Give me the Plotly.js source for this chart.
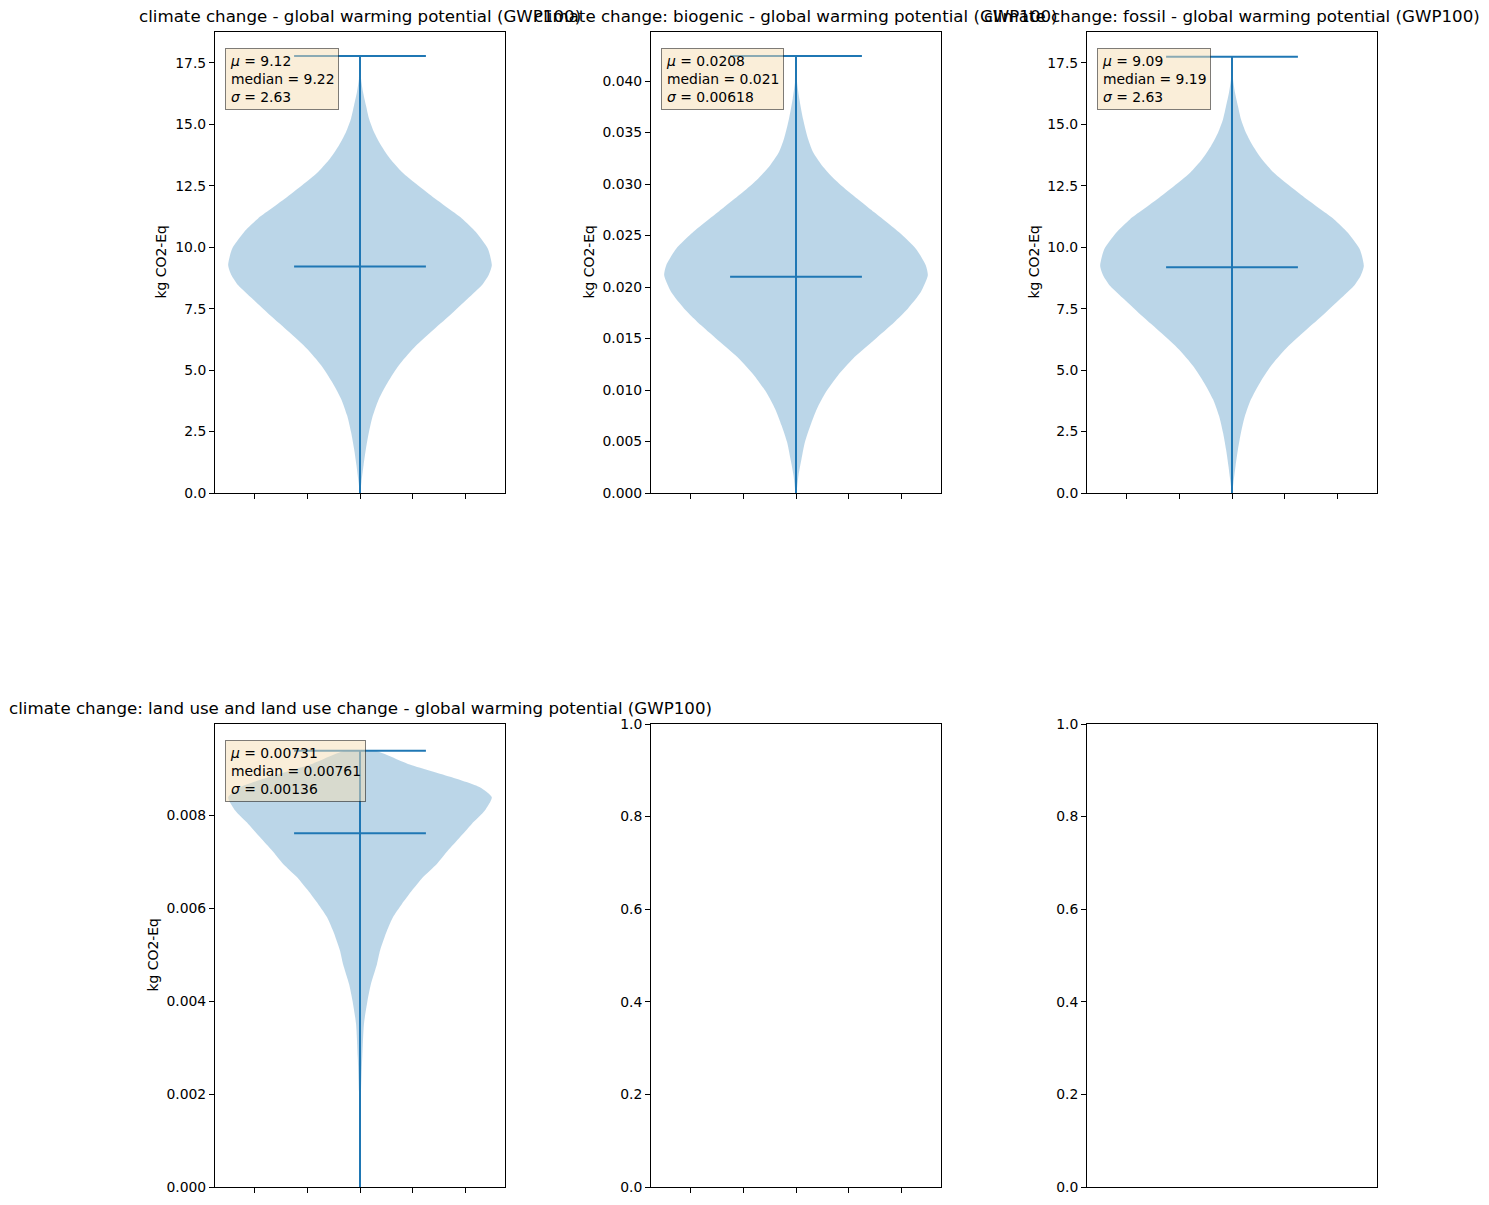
<!DOCTYPE html>
<html>
<head>
<meta charset="utf-8">
<script src="https://cdn.plot.ly/plotly-3.0.1.min.js"></script>
<style>html,body{margin:0;padding:0;background:#fff;}</style>
</head>
<body>
<div id="chart" style="width:1489px;height:1205px;"></div>
<script>
// ---------------- data ----------------
const titles = [
  "climate change - global warming potential (GWP100)",
  "climate change: biogenic - global warming potential (GWP100)",
  "climate change: fossil - global warming potential (GWP100)",
  "climate change: land use and land use change - global warming potential (GWP100)"
];
const yLabel = "kg CO2-Eq";

// violin outlines: y levels and relative half-width (1 = widest)
const v1Y = [0, 0.45, 1.13, 1.80, 2.48, 3.16, 3.84, 4.52, 5.20, 5.87, 6.55, 7.23, 7.91, 8.45, 8.86, 9.27, 9.94, 10.62, 11.17, 11.98, 12.52, 13.06, 13.61, 14.15, 14.69, 15.24, 15.78, 16.32, 16.86, 17.78];
const v1W = [0.002, 0.011, 0.027, 0.045, 0.068, 0.098, 0.144, 0.212, 0.295, 0.402, 0.538, 0.682, 0.818, 0.924, 0.975, 1.0, 0.970, 0.879, 0.773, 0.568, 0.439, 0.318, 0.227, 0.159, 0.106, 0.068, 0.045, 0.023, 0.008, 0.002];

const v2Y = [0, 0.0001, 0.00172, 0.00333, 0.00495, 0.00657, 0.00819, 0.00981, 0.01142, 0.01304, 0.01466, 0.01628, 0.01790, 0.01951, 0.02113, 0.02210, 0.02372, 0.02534, 0.02728, 0.02922, 0.03052, 0.03181, 0.03311, 0.03440, 0.03634, 0.03829, 0.03990, 0.04243];
const v2W = [0.004, 0.005, 0.019, 0.042, 0.068, 0.110, 0.159, 0.227, 0.318, 0.432, 0.576, 0.720, 0.848, 0.947, 1.0, 0.985, 0.909, 0.780, 0.591, 0.402, 0.288, 0.197, 0.129, 0.091, 0.053, 0.025, 0.008, 0.002];

const v3Y = [0, 0.42, 1.10, 1.77, 2.45, 3.13, 3.81, 4.49, 5.17, 5.84, 6.52, 7.20, 7.88, 8.42, 8.83, 9.24, 9.91, 10.59, 11.14, 11.95, 12.49, 13.03, 13.58, 14.12, 14.66, 15.21, 15.75, 16.29, 16.83, 17.75];
const v3W = [0.002, 0.011, 0.027, 0.045, 0.068, 0.098, 0.144, 0.212, 0.295, 0.402, 0.538, 0.682, 0.818, 0.924, 0.975, 1.0, 0.970, 0.879, 0.773, 0.568, 0.439, 0.318, 0.227, 0.159, 0.106, 0.068, 0.045, 0.023, 0.008, 0.002];

const v4Y = [0, 0.001714, 0.002072, 0.002789, 0.003506, 0.004008, 0.004367, 0.004797, 0.005084, 0.005514, 0.005801, 0.006087, 0.006374, 0.006661, 0.006948, 0.007235, 0.007521, 0.007808, 0.008095, 0.008382, 0.008597, 0.008812, 0.009099, 0.00938];
const v4W = [0, 0.005, 0.008, 0.017, 0.030, 0.057, 0.083, 0.129, 0.152, 0.205, 0.250, 0.318, 0.394, 0.477, 0.583, 0.667, 0.758, 0.848, 0.947, 1.0, 0.909, 0.697, 0.364, 0.114];

const mins    = [0, 0, 0, 0];
const maxs    = [17.78, 0.04243, 17.75, 0.00938];
const medians = [9.22, 0.021, 9.19, 0.00761];
const muText  = ["9.12", "0.0208", "9.09", "0.00731"];
const medText = ["9.22", "0.021", "9.19", "0.00761"];
const sdText  = ["2.63", "0.00618", "2.63", "0.00136"];

const yMax   = [18.76, 0.04476, 18.76, 0.009957, 1, 1];
const yDtick = [2.5, 0.005, 2.5, 0.002, 0.2, 0.2];
const yFmt   = [".1f", ".3f", ".1f", ".3f", ".1f", ".1f"];
const xTicks = [0.8, 0.9, 1.0, 1.1, 1.2];

// ---------------- layout geometry ----------------
const W = 1489, H = 1205;
const boxes = [
  [215, 505, 32, 493], [651, 941, 32, 493], [1087, 1377, 32, 493],
  [215, 505, 724, 1187], [651, 941, 724, 1187], [1087, 1377, 724, 1187]
];
const C0 = "#1f77b4";
const FILL = "rgba(31,119,180,0.3)";
const FONT = "DejaVu Sans";
const pos = 1.0, half = 0.25;

const violins = [[v1Y, v1W], [v2Y, v2W], [v3Y, v3W], [v4Y, v4W]];
const traces = [];
const layout = {
  width: W, height: H,
  margin: {l: 0, r: 0, t: 0, b: 0},
  paper_bgcolor: "white", plot_bgcolor: "white",
  showlegend: false,
  font: {family: FONT, size: 13.9, color: "black"},
  annotations: []
};

function sfx(i) { return i === 0 ? "" : String(i + 1); }

for (let i = 0; i < 6; i++) {
  const b = boxes[i];
  const hasViolinX = (i <= 4);
  layout["xaxis" + sfx(i)] = {
    domain: [b[0] / W, b[1] / W],
    anchor: "y" + sfx(i),
    range: hasViolinX ? [0.725, 1.275] : [0, 1],
    showgrid: false, zeroline: false,
    showline: true, mirror: true, linecolor: "black", linewidth: 1,
    ticks: (i === 5) ? "" : "outside", ticklen: 5, tickwidth: 1, tickcolor: "black",
    tickmode: "array", tickvals: (i === 5) ? [] : xTicks,
    showticklabels: false, fixedrange: true
  };
  layout["yaxis" + sfx(i)] = {
    domain: [1 - b[3] / H, 1 - b[2] / H],
    anchor: "x" + sfx(i),
    range: [0, yMax[i]],
    tick0: 0, dtick: yDtick[i], tickformat: yFmt[i],
    showgrid: false, zeroline: false,
    showline: true, mirror: true, linecolor: "black", linewidth: 1,
    ticks: "outside", ticklen: 5, tickwidth: 1, tickcolor: "black",
    tickfont: {family: FONT, size: 13.9, color: "black"},
    fixedrange: true
  };
}

for (let i = 0; i < 4; i++) {
  const [ys, ws] = violins[i];
  const xs = [], yy = [];
  for (let k = 0; k < ys.length; k++) { xs.push(pos + ws[k] * half); yy.push(ys[k]); }
  for (let k = ys.length - 1; k >= 0; k--) { xs.push(pos - ws[k] * half); yy.push(ys[k]); }
  traces.push({
    type: "scatter", mode: "lines", x: xs, y: yy,
    fill: "toself", fillcolor: FILL,
    line: {width: 0, color: "rgba(0,0,0,0)", shape: "spline", smoothing: 0.6},
    hoverinfo: "skip", xaxis: "x" + sfx(i), yaxis: "y" + sfx(i)
  });
  const lo = pos - half / 2, hi = pos + half / 2;
  traces.push({
    type: "scatter", mode: "lines",
    x: [lo, hi, null, lo, hi, null, pos, pos],
    y: [maxs[i], maxs[i], null, medians[i], medians[i], null, mins[i], maxs[i]],
    line: {color: C0, width: 2}, hoverinfo: "skip",
    xaxis: "x" + sfx(i), yaxis: "y" + sfx(i)
  });
  const b = boxes[i];
  // title
  layout.annotations.push({
    xref: "paper", yref: "paper",
    x: ((b[0] + b[1]) / 2) / W, y: 1 - (b[2] - 4) / H,
    xanchor: "center", yanchor: "bottom", showarrow: false,
    text: titles[i], font: {family: FONT, size: 16.67, color: "black"}
  });
  // stats box
  layout.annotations.push({
    xref: "paper", yref: "paper",
    x: (b[0] + 10) / W, y: 1 - (b[2] + 16) / H,
    xanchor: "left", yanchor: "top", align: "left", showarrow: false,
    text: "<i>μ</i> = " + muText[i] + "<br>median = " + medText[i] + "<br><i>σ</i> = " + sdText[i],
    font: {family: FONT, size: 13.9, color: "black"},
    bgcolor: "rgba(245,222,179,0.5)", bordercolor: "rgba(0,0,0,0.5)",
    borderwidth: 1, borderpad: 4
  });
}

// empty subplots
traces.push({type: "scatter", x: [], y: [], xaxis: "x5", yaxis: "y5"});
traces.push({type: "scatter", x: [], y: [], xaxis: "x6", yaxis: "y6"});

// y-axis titles
const yTitleX = [160, 588, 1033, 152];
for (let i = 0; i < 4; i++) {
  const b = boxes[i];
  layout.annotations.push({
    xref: "paper", yref: "paper",
    x: yTitleX[i] / W, y: 1 - ((b[2] + b[3]) / 2) / H,
    xanchor: "center", yanchor: "middle", textangle: -90, showarrow: false,
    text: yLabel, font: {family: FONT, size: 13.9, color: "black"}
  });
}

Plotly.newPlot("chart", traces, layout, {displayModeBar: false, staticPlot: true});
</script>
</body>
</html>
